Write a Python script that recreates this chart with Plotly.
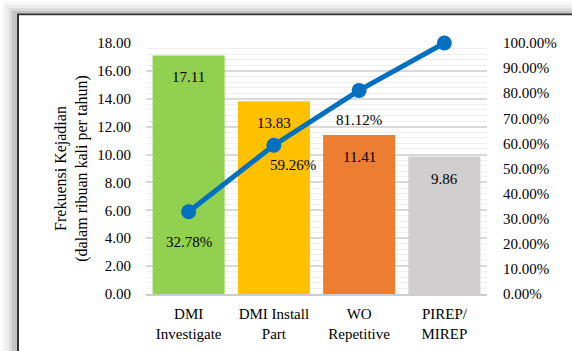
import plotly.graph_objects as go

# Categories and values
categories = ["DMI<br>Investigate", "DMI Install<br>Part", "WO<br>Repetitive", "PIREP/<br>MIREP"]
frequency = [17.11, 13.83, 11.41, 9.86]
cumulative_pct = [0.3278, 0.5926, 0.8112, 1.0000]
pct_labels = ["32.78%", "59.26%", "81.12%", None]
bar_colors = ["#92D050", "#FFC000", "#ED7D31", "#D0CECE"]

W, H = 572, 351
ML, MR, MT, MB = 146, 85, 43, 57
PW, PH = W - ML - MR, H - MT - MB

FONT = "Liberation Serif, Times New Roman, serif"
TXT = "#000000"


def px_x(x):
    return (x - ML) / PW


def px_y(y):
    return (H - MB - y) / PH


fig = go.Figure()

fig.add_trace(go.Bar(
    x=categories, y=frequency,
    marker=dict(color=bar_colors, line=dict(width=0)),
    yaxis="y", showlegend=False, hoverinfo="skip",
))

fig.add_trace(go.Scatter(
    x=categories, y=cumulative_pct,
    mode="lines+markers",
    line=dict(color="#0070C0", width=5),
    marker=dict(color="#0070C0", size=15),
    cliponaxis=False,
    yaxis="y2", showlegend=False, hoverinfo="skip",
))

annotations = []
for c, v in zip(categories, frequency):
    annotations.append(dict(
        x=c, y=v, xref="x", yref="y", text=f"{v:.2f}", showarrow=False,
        yshift=-22, font=dict(family=FONT, size=15, color=TXT),
    ))

pct_offsets = [(0, -30), (19, -20), (0, -30), (0, 0)]
for c, p, lab, (dx, dy) in zip(categories, cumulative_pct, pct_labels, pct_offsets):
    if lab is None:
        continue
    annotations.append(dict(
        x=c, y=p, xref="x", yref="y2", text=lab, showarrow=False,
        xshift=dx, yshift=dy, font=dict(family=FONT, size=15, color=TXT),
    ))

# Page frame with soft shadow on the top and left edges
shapes = []
bands = [(2, 5, "#f7f7f7"), (5, 9, "#ececec"), (9, 12, "#dcdcdc"), (12, 15, "#c4c4c4")]
for a, b, col in bands:
    shapes.append(dict(type="rect", xref="paper", yref="paper",
                       x0=px_x(a), x1=px_x(W + 5), y0=px_y(a * 0.9), y1=px_y(b * 0.9 + 0.4),
                       fillcolor=col, line=dict(width=0), layer="above"))
for a, b, col in bands:
    shapes.append(dict(type="rect", xref="paper", yref="paper",
                       x0=px_x(a), x1=px_x(b + 2), y0=px_y(a * 0.9), y1=px_y(H + 5),
                       fillcolor=col, line=dict(width=0), layer="above"))
shapes.append(dict(type="rect", xref="paper", yref="paper",
                   x0=px_x(17), x1=px_x(19), y0=px_y(14), y1=px_y(H + 5),
                   fillcolor="#333333", line=dict(width=0), layer="above"))
shapes.append(dict(type="rect", xref="paper", yref="paper",
                   x0=px_x(17), x1=px_x(W + 5), y0=px_y(13.5), y1=px_y(15.5),
                   fillcolor="#333333", line=dict(width=0), layer="above"))
shapes.append(dict(type="rect", xref="paper", yref="paper",
                   x0=px_x(19), x1=px_x(W + 5), y0=px_y(15.5), y1=px_y(17),
                   fillcolor="#ffffff", line=dict(width=0), layer="above"))

fig.update_layout(
    width=W, height=H,
    margin=dict(l=ML, r=MR, t=MT, b=MB, autoexpand=False),
    paper_bgcolor="#ffffff", plot_bgcolor="#ffffff",
    bargap=0.155,
    font=dict(family=FONT, size=15, color=TXT),
    xaxis=dict(
        showline=True, linecolor="#cccccc", linewidth=2,
        tickfont=dict(family=FONT, size=15, color=TXT),
        ticks="outside", ticklen=5, tickcolor="rgba(0,0,0,0)",
        fixedrange=True,
    ),
    yaxis=dict(
        range=[0, 18], dtick=2, tickformat=".2f",
        showgrid=True, gridcolor="#d9d9d9", gridwidth=2,
        minor=dict(dtick=0.4, showgrid=True, gridcolor="#efefef", gridwidth=1),
        zeroline=False,
        ticks="outside", ticklen=11, tickcolor="rgba(0,0,0,0)",
        tickfont=dict(family=FONT, size=15, color=TXT),
        title=dict(text="Frekuensi Kejadian<br>(dalam ribuan kali per tahun)",
                   font=dict(family=FONT, size=16, color=TXT), standoff=5),
        automargin=False,
    ),
    yaxis2=dict(
        range=[0, 1], dtick=0.1, tickformat=".2%",
        overlaying="y", side="right", showgrid=False, zeroline=False,
        ticks="outside", ticklen=12, tickcolor="rgba(0,0,0,0)",
        tickfont=dict(family=FONT, size=15, color=TXT),
        automargin=False,
    ),
    annotations=annotations,
    shapes=shapes,
)

fig.write_html("out.html")
